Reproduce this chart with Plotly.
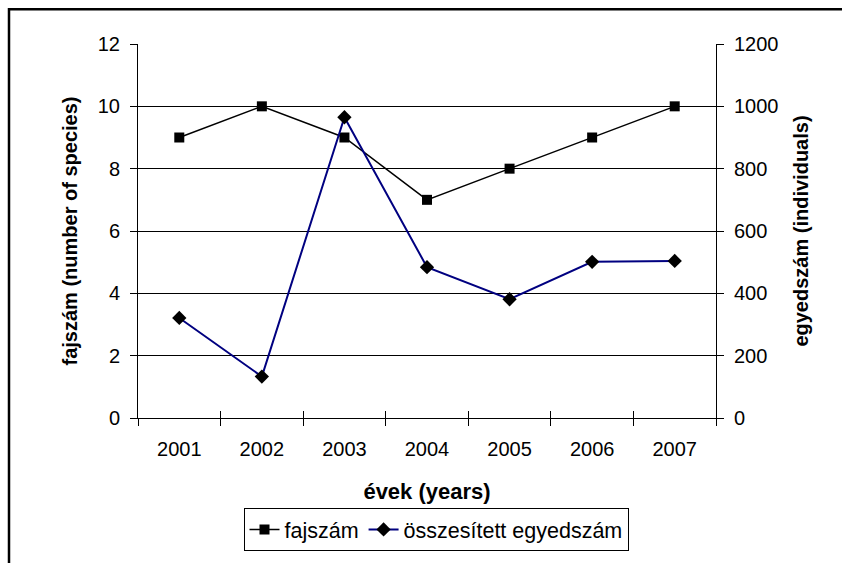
import plotly.graph_objects as go

years = ["2001", "2002", "2003", "2004", "2005", "2006", "2007"]
fajszam = [9, 10, 9, 7, 8, 9, 10]
egyedszam = [321, 133, 965, 484, 381, 501, 504]

W, H = 842, 563
L, R, T, B = 138, 716, 44, 420

idx = list(range(len(years)))
bounds = [i - 0.5 for i in range(len(years) + 1)]
FONT = "Liberation Sans, Arial, sans-serif"

fig = go.Figure()
fig.add_trace(go.Scatter(
    x=idx, y=fajszam, name="fajszám", mode="lines+markers",
    line=dict(color="black", width=1.5),
    marker=dict(symbol="square", size=10, color="black"),
    yaxis="y", xaxis="x"))
fig.add_trace(go.Scatter(
    x=idx, y=egyedszam, name="összesített egyedszám", mode="lines+markers",
    line=dict(color="#000080", width=2),
    marker=dict(symbol="diamond", size=11, color="black"),
    yaxis="y2", xaxis="x"))

axfont = dict(family=FONT, size=20, color="black")
legfont = dict(family=FONT, size=21.5, color="black")
titlefont = dict(family=FONT, size=20, color="black", weight="bold")
xtitlefont = dict(family=FONT, size=22, color="black", weight="bold")

fig.update_layout(
    width=W, height=H,
    margin=dict(l=L, r=W - R, t=T, b=H - B, pad=0),
    paper_bgcolor="white", plot_bgcolor="white",
    font=axfont,
    showlegend=True,
    legend=dict(orientation="h", x=(436 - L) / (R - L), xanchor="center",
                y=-(532 - B) / (B - T), yanchor="middle",
                bordercolor="black", borderwidth=1, font=legfont,
                tracegroupgap=0),
    xaxis=dict(range=[-0.5, len(years) - 0.5], tickvals=idx, ticktext=years,
               ticks="", showgrid=False, showline=True, linecolor="black",
               linewidth=1, zeroline=False, tickfont=axfont, ticklabelstandoff=13,
               minor=dict(tickvals=bounds, ticks="outside", ticklen=7,
                          tickcolor="black", showgrid=False),
               title=dict(text="évek (years)", font=xtitlefont, standoff=24)),
    xaxis2=dict(range=[-0.5, len(years) - 0.5], overlaying="x", anchor="y",
                side="bottom", tickvals=bounds, ticks="inside", ticklen=7,
                tickcolor="black", showticklabels=False, showgrid=False,
                showline=False, zeroline=False),
    yaxis=dict(range=[0, 12], dtick=2, tick0=0, showgrid=True, gridcolor="black",
               gridwidth=1, showline=True, linecolor="black", linewidth=1,
               ticks="outside", ticklen=7, tickcolor="black", zeroline=False,
               tickfont=axfont, ticklabelstandoff=6,
               title=dict(text="fajszám (number of species)", font=titlefont, standoff=14)),
    yaxis2=dict(range=[0, 1200], dtick=200, tick0=0, overlaying="y", side="right",
                anchor="x", showgrid=False, showline=True, linecolor="black",
                linewidth=1, ticks="outside", ticklen=7, tickcolor="black",
                zeroline=False, tickfont=axfont, ticklabelstandoff=6,
                title=dict(text="egyedszám (individuals)", font=titlefont, standoff=16)),
)

# invisible helper trace to activate the crossing-tick axis
fig.add_trace(go.Scatter(x=[idx[0]], y=[fajszam[0]], xaxis="x2", yaxis="y",
                         mode="markers", marker=dict(opacity=0), showlegend=False,
                         hoverinfo="skip"))

# outer chart border
fig.add_shape(type="rect", xref="paper", yref="paper",
              x0=(9 - L) / (R - L), x1=(W + 10 - L) / (R - L),
              y0=-(H + 10 - B) / (B - T), y1=1 + (T - 9) / (B - T),
              line=dict(color="black", width=2.5), layer="above")

fig.write_html("out.html", config={"displayModeBar": False},
               post_script="document.body.style.margin='0px';document.body.style.overflow='hidden';")
